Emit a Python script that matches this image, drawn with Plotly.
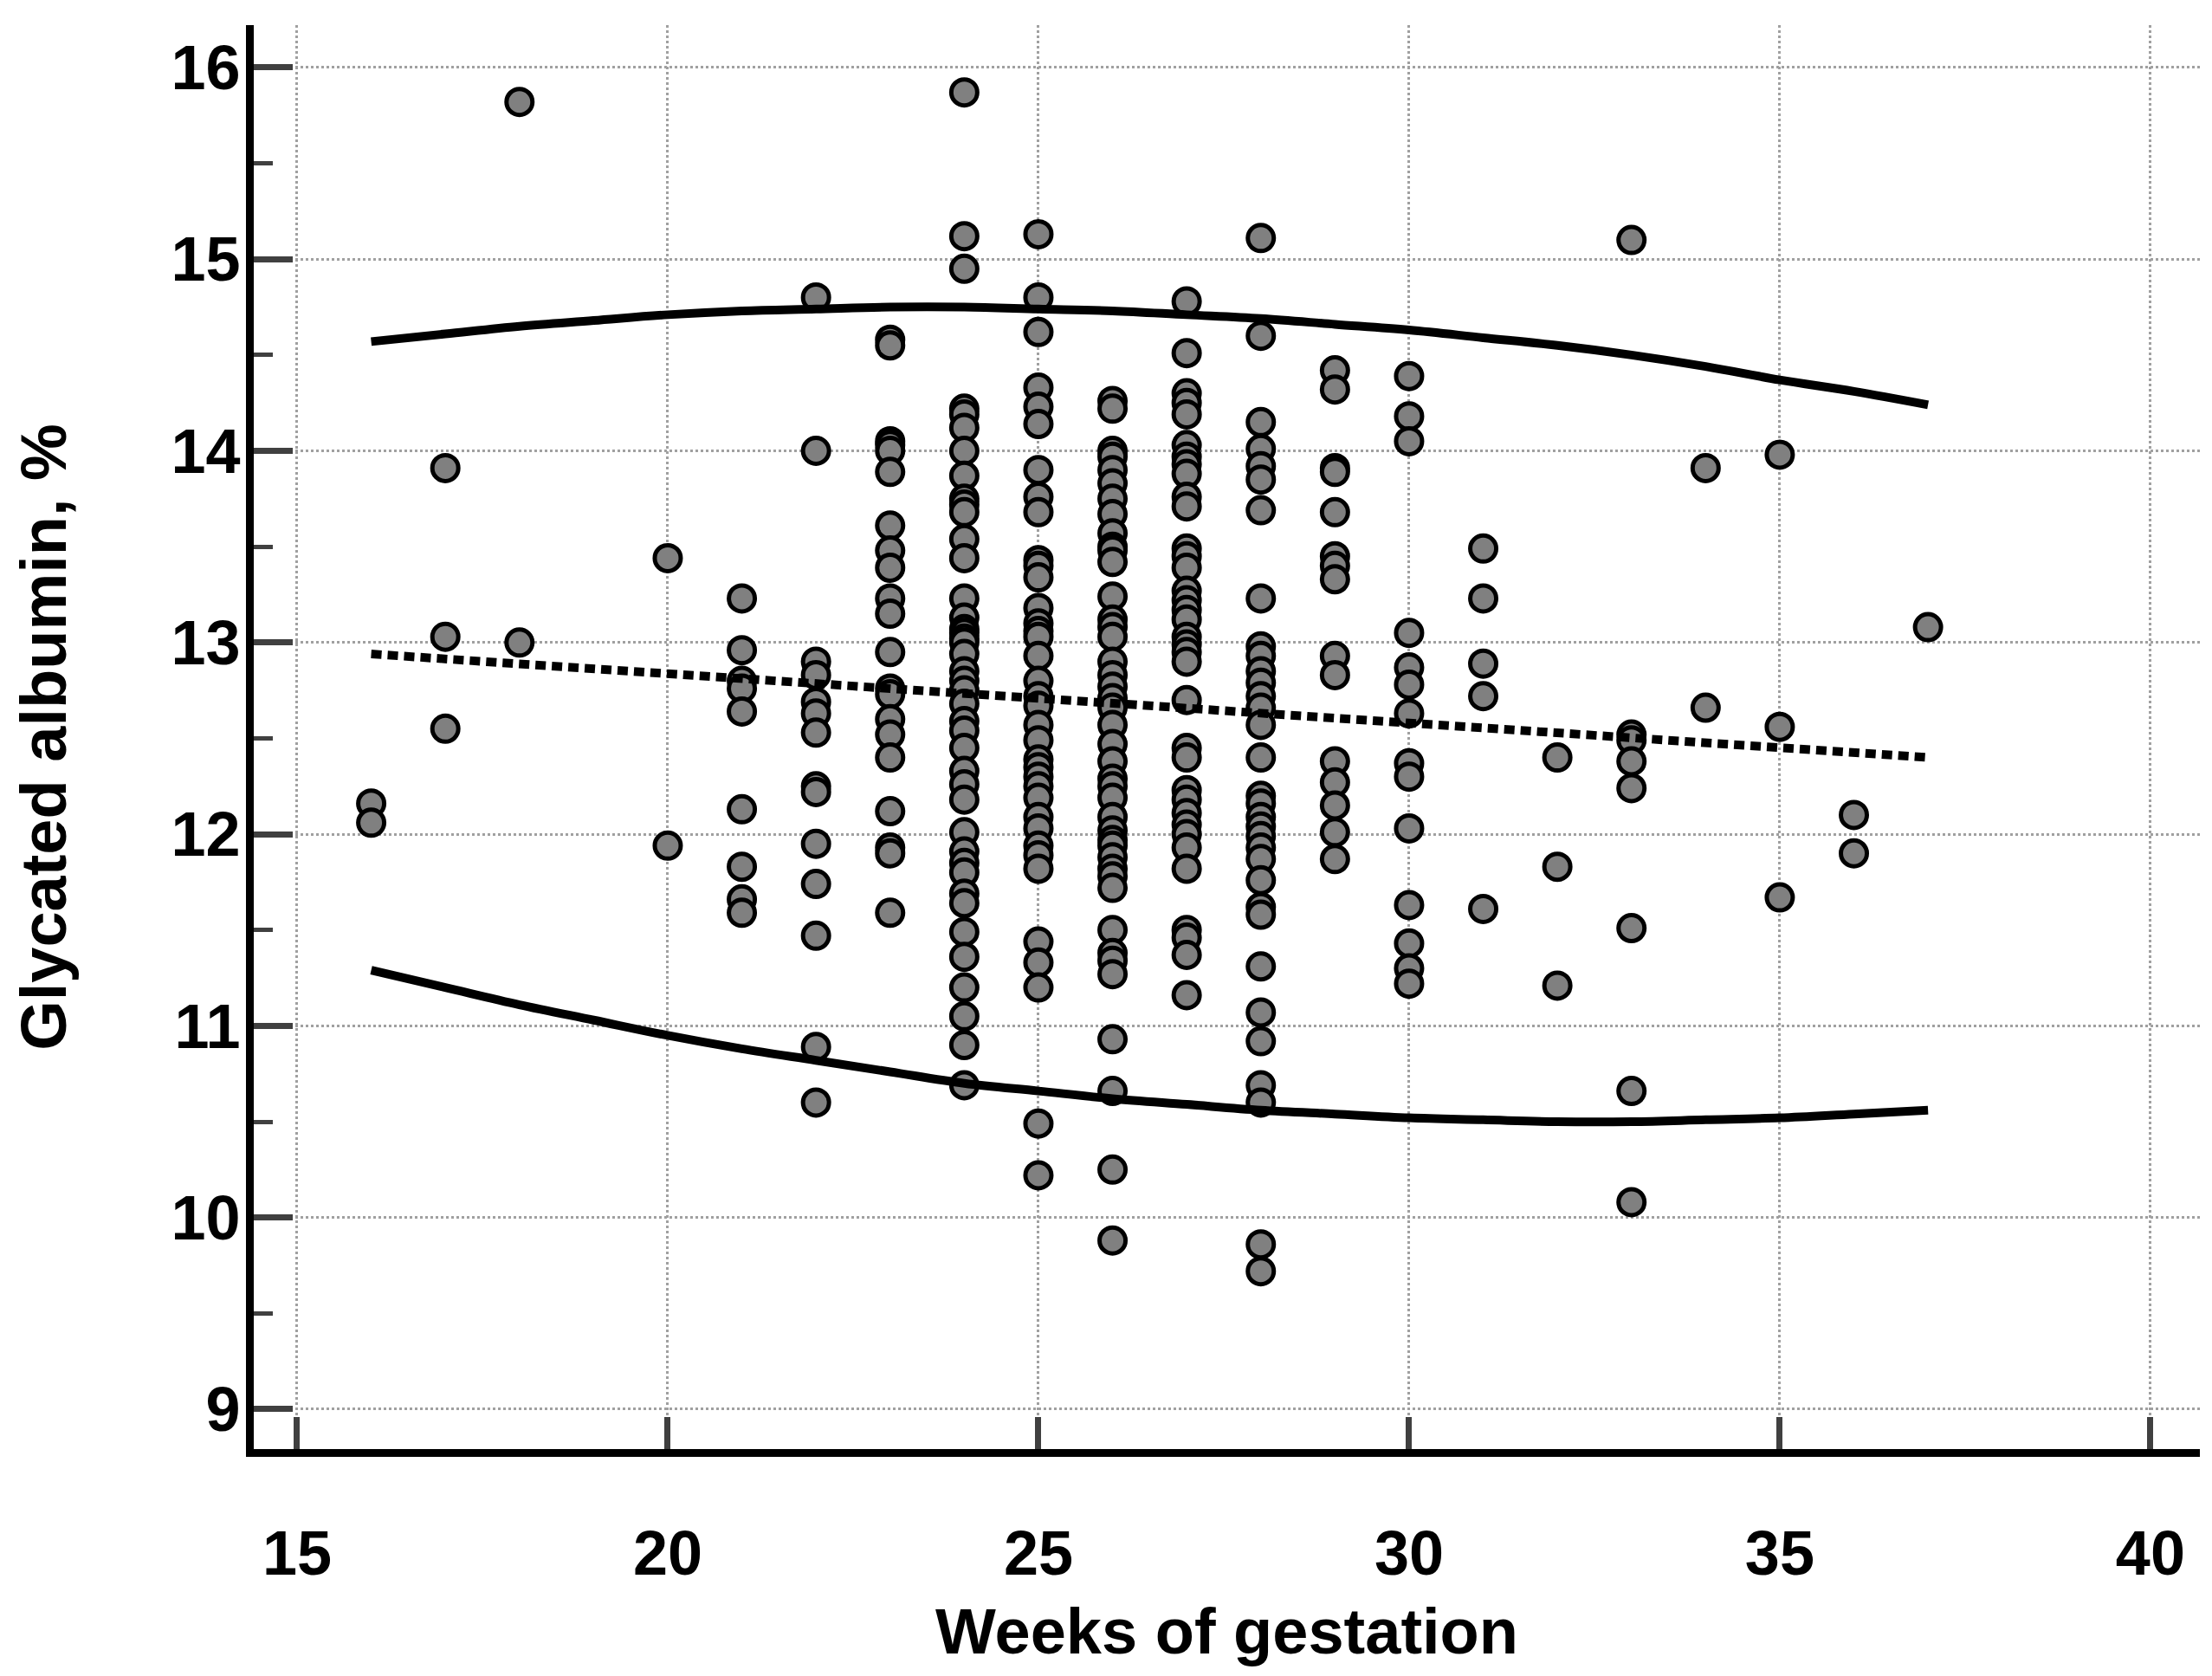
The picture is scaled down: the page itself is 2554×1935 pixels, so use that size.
import plotly.graph_objects as go

# glycated albumin (%) read per week of gestation
w16 = [12.16, 12.06]
w17 = [13.91, 13.03, 12.55]
w18 = [15.82, 13.00]
w20 = [13.44, 11.94]
w21 = [13.23, 12.96, 12.80, 12.76, 12.64, 12.13, 11.83, 11.66, 11.59]
w22 = [14.80, 14.00, 12.90, 12.83, 12.69, 12.63, 12.53, 12.25, 12.22, 11.95,
       11.74, 11.47, 10.89, 10.60]
w23 = [14.58, 14.55, 14.05, 14.03, 14.00, 13.89, 13.61, 13.48, 13.39, 13.23,
       13.15, 12.95, 12.76, 12.73, 12.60, 12.52, 12.40, 12.12, 11.93, 11.90, 11.59]
w24 = [15.87, 15.12, 14.95, 14.22, 14.19, 14.12, 14.00, 13.87, 13.75, 13.72,
       13.68, 13.54, 13.44, 13.23, 13.13, 13.07, 13.05, 13.02, 13.00, 12.94,
       12.85, 12.80, 12.75, 12.68, 12.59, 12.54, 12.45, 12.33, 12.26, 12.18,
       12.01, 11.91, 11.85, 11.80, 11.69, 11.64, 11.49, 11.36, 11.20, 11.05,
       10.90, 10.69]
w25 = [15.13, 14.80, 14.62, 14.33, 14.23, 14.14, 13.90, 13.76, 13.68, 13.43,
       13.40, 13.34, 13.18, 13.10, 13.06, 13.03, 12.93, 12.80, 12.72, 12.67,
       12.57, 12.49, 12.39, 12.35, 12.30, 12.25, 12.19, 12.09, 12.03, 11.94,
       11.89, 11.82, 11.44, 11.33, 11.20, 10.49, 10.22]
w26 = [14.26, 14.22, 14.00, 13.97, 13.90, 13.83, 13.75, 13.67, 13.57, 13.50,
       13.48, 13.42, 13.24, 13.12, 13.08, 13.03, 12.90, 12.83, 12.77, 12.71,
       12.66, 12.57, 12.47, 12.38, 12.29, 12.25, 12.19, 12.09, 12.02, 11.97,
       11.94, 11.88, 11.82, 11.78, 11.72, 11.50, 11.38, 11.34, 11.27, 10.93,
       10.66, 10.25, 9.88]
w27 = [14.78, 14.51, 14.30, 14.25, 14.19, 14.03, 13.97, 13.93, 13.88, 13.76,
       13.71, 13.49, 13.45, 13.39, 13.27, 13.22, 13.17, 13.12, 13.03, 12.99,
       12.95, 12.90, 12.70, 12.45, 12.40, 12.23, 12.18, 12.11, 12.05, 12.00,
       11.93, 11.82, 11.50, 11.46, 11.37, 11.16]
w28 = [15.11, 14.60, 14.15, 14.01, 13.92, 13.85, 13.69, 13.23, 12.98, 12.93,
       12.85, 12.79, 12.72, 12.66, 12.57, 12.40, 12.20, 12.16, 12.09, 12.04,
       11.99, 11.93, 11.87, 11.76, 11.62, 11.58, 11.31, 11.07, 10.92, 10.69,
       10.60, 9.86, 9.72]
w29 = [14.42, 14.32, 13.91, 13.89, 13.68, 13.45, 13.40, 13.33, 12.93, 12.83,
       12.38, 12.27, 12.15, 12.01, 11.87]
w30 = [14.39, 14.18, 14.05, 13.05, 12.87, 12.78, 12.63, 12.37, 12.30, 12.03,
       11.63, 11.43, 11.30, 11.22]
w31 = [13.49, 13.23, 12.89, 12.72, 11.61]
w32 = [12.40, 11.83, 11.21]
w33 = [15.10, 12.52, 12.49, 12.38, 12.24, 11.51, 10.66, 10.08]
w34 = [13.91, 12.66]
w35 = [13.98, 12.56, 11.67]
w36 = [12.10, 11.90]
w37 = [13.08]

weeks = [16, 17, 18, 20, 21, 22, 23, 24, 25, 26, 27, 28, 29, 30, 31, 32, 33, 34, 35, 36, 37]
values = [w16, w17, w18, w20, w21, w22, w23, w24, w25, w26, w27, w28, w29, w30,
          w31, w32, w33, w34, w35, w36, w37]

# reference curves
curve_weeks = [16, 17, 18, 19, 20, 21, 22, 23, 24, 25, 26, 27, 28, 29, 30, 31, 32, 33, 34, 35, 36, 37]
upper = [14.57, 14.61, 14.65, 14.68, 14.71, 14.73, 14.74, 14.75, 14.75, 14.74, 14.73,
         14.71, 14.69, 14.66, 14.63, 14.59, 14.55, 14.50, 14.44, 14.37, 14.31, 14.24]
lower = [11.29, 11.20, 11.11, 11.03, 10.95, 10.88, 10.82, 10.76, 10.70, 10.66, 10.62,
         10.59, 10.56, 10.54, 10.52, 10.51, 10.50, 10.50, 10.51, 10.52, 10.54, 10.56]
mean_weeks = [16, 37]
mean = [12.94, 12.40]

x_points = []
y_points = []
for week, vals in zip(weeks, values):
    x_points += [week] * len(vals)
    y_points += vals

tick_font = dict(family='Liberation Sans, Arial, sans-serif', size=72, color='black', weight='bold')
title_font = dict(family='Liberation Sans, Arial, sans-serif', size=74, color='black', weight='bold')

fig = go.Figure()
fig.add_trace(go.Scatter(x=x_points, y=y_points, mode='markers',
                         marker=dict(size=30, color='#808080',
                                     line=dict(color='black', width=5)),
                         showlegend=False))
for curve in (upper, lower):
    fig.add_trace(go.Scatter(x=curve_weeks, y=curve, mode='lines',
                             line=dict(color='black', width=10, shape='spline'),
                             showlegend=False))
fig.add_trace(go.Scatter(x=mean_weeks, y=mean, mode='lines',
                         line=dict(color='black', width=10, dash='12px,7px'),
                         showlegend=False))

# the page body adds 8px on the top and left, so the figure is 8px smaller
fig.update_layout(width=2546, height=1927,
                  margin=dict(l=285, r=14, t=21, b=262),
                  plot_bgcolor='white', paper_bgcolor='white')
fig.update_xaxes(range=[14.416, 40.667], tickvals=[15, 20, 25, 30, 35, 40],
                 showline=True, linecolor='black', linewidth=9,
                 ticks='inside', ticklen=37, tickwidth=7, tickcolor='#404040',
                 showgrid=True, gridcolor='#a0a0a0', gridwidth=3, griddash='dot',
                 zeroline=False, tickfont=tick_font, ticklabelstandoff=50,
                 title=dict(text='Weeks of gestation', font=title_font, standoff=28))
fig.update_yaxes(range=[8.792, 16.221], tickvals=[9, 10, 11, 12, 13, 14, 15, 16],
                 showline=True, linecolor='black', linewidth=9,
                 ticks='inside', ticklen=45, tickwidth=7, tickcolor='#404040',
                 minor=dict(dtick=0.5, ticks='inside', ticklen=22, tickwidth=5,
                            tickcolor='#404040', showgrid=False),
                 showgrid=True, gridcolor='#a0a0a0', gridwidth=3, griddash='dot',
                 zeroline=False, tickfont=tick_font, ticklabelstandoff=-8,
                 title=dict(text='Glycated albumin, %', font=title_font, standoff=100))

fig.write_html('out.html')
